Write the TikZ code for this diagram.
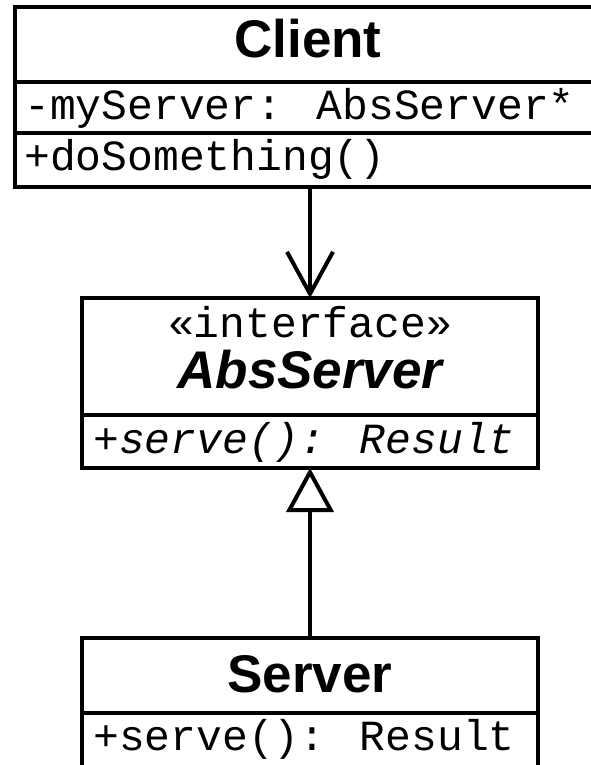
\documentclass[tikz,border=0pt]{standalone}
\usepackage{fontspec}
\setmainfont{Liberation Sans}
\newfontfamily\umlmono{Liberation Mono}
\usepackage{tikz}
\usetikzlibrary{positioning,arrows.meta}

\tikzset{
  classpart/.style={draw, line width=4.5pt, inner sep=0pt, outer sep=0pt,
    minimum width=456pt, anchor=north},
  classname/.style={font=\fontsize{53}{60}\selectfont\bfseries, anchor=base, inner sep=0pt},
  member/.style={font=\fontsize{43}{48}\selectfont\umlmono, anchor=base west, inner sep=0pt},
  uses/.style={line width=4pt, -{Straight Barb[length=42pt, width=46pt]}},
  realizes/.style={line width=4pt, -{Triangle[open, length=44pt, width=47pt]}}
}

\begin{document}
\begin{tikzpicture}[x=1pt, y=-1pt]
  \useasboundingbox (0,0) rectangle (591,765);

  % Client
  \node[classpart, minimum width=586pt, minimum height=75pt] (client) at (308,7) {};
  \node[classpart, minimum width=586pt, minimum height=51pt, below=0pt of client] (clientattr) {};
  \node[classpart, minimum width=586pt, minimum height=54pt, below=0pt of clientattr] (clientop) {};
  \node[classname] (clientname) at (308,58) {Client};
  \node[member] (myserver) at (24,120) {-myServer: AbsServer*};
  \node[member] (dosomething) at (24,170) {+doSomething()};

  % AbsServer
  \node[classpart, minimum height=117pt] (absserver) at (310,298) {};
  \node[classpart, minimum height=53pt, below=0pt of absserver] (absop) {};
  \node[member, anchor=base] (stereo) at (310,337) {«interface»};
  \node[classname, font=\fontsize{53}{60}\selectfont\bfseries\itshape] (absname) at (310,388) {AbsServer};
  \node[member, font=\fontsize{43}{48}\selectfont\umlmono\itshape] (absserve) at (93,453) {+serve(): Result};

  % Server
  \node[classpart, minimum height=75pt] (server) at (310,638) {};
  \node[classpart, minimum height=80pt, below=0pt of server] (serverop) {};
  \node[classname] (servername) at (310,692) {Server};
  \node[member] (serve) at (93,750) {+serve(): Result};

  \draw[uses] (clientop.south -| absserver.north) -- (absserver.north);
  \draw[realizes] (server.north) -- (absop.south);
\end{tikzpicture}
\end{document}
